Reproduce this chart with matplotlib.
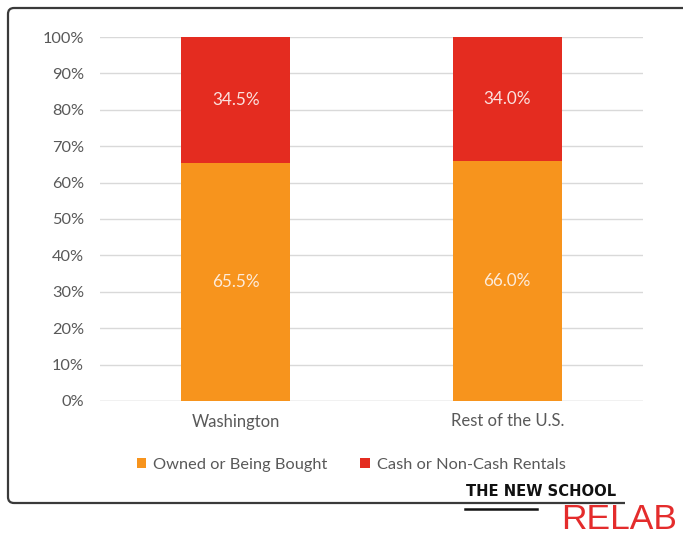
import matplotlib
matplotlib.use("Agg")
import matplotlib.pyplot as plt
from matplotlib.path import Path
from matplotlib.patches import PathPatch
from matplotlib.lines import Line2D

categories = ["Washington", "Rest of the U.S."]
owned = [65.5, 66.0]
rentals = [34.5, 34.0]
series_names = ["Owned or Being Bought", "Cash or Non-Cash Rentals"]
yticks = [0, 10, 20, 30, 40, 50, 60, 70, 80, 90, 100]

plt.rcParams['font.family'] = ['Lato', 'DejaVu Sans']
W, H = 683, 538
fig = plt.figure(figsize=(W / 100, H / 100), dpi=100)
fig.patch.set_facecolor("white")

# frame drawn in pixel coords (y from top)
def fx(px):
    return px / W
def fy(py):
    return 1 - py / H

r = 6
verts = [(700, 8), (8 + r, 8), (8, 8), (8, 8 + r), (8, 503 - r), (8, 503), (8 + r, 503), (625, 503)]
codes = [Path.MOVETO, Path.LINETO, Path.CURVE3, Path.CURVE3, Path.LINETO, Path.CURVE3, Path.CURVE3, Path.LINETO]
path = Path([(fx(a), fy(b)) for a, b in verts], codes)
fig.patches.append(PathPatch(path, transform=fig.transFigure, fill=False,
                             edgecolor="#3a3a3a", linewidth=1.6, zorder=0))

ax = fig.add_axes([fx(100), fy(401), (643 - 100) / W, (401 - 37) / H])
orange = "#F7941D"
red = "#E42C20"
x = list(range(len(categories)))
b1 = ax.bar(x, owned, width=0.4, color=orange, zorder=2)
b2 = ax.bar(x, rentals, width=0.4, bottom=owned, color=red, zorder=2)
for i in x:
    ax.text(i, owned[i] / 2, f"{owned[i]:.1f}%", ha="center", va="center",
            color="#FDEBDA", fontsize=12.3)
    ax.text(i, owned[i] + rentals[i] / 2, f"{rentals[i]:.1f}%", ha="center",
            va="center", color="#FBE1DE", fontsize=12.3)

ax.set_xlim(-0.5, 1.5)
ax.set_ylim(0, 100)
ax.set_yticks(yticks)
ax.set_yticklabels([f"{v}%" for v in yticks])
ax.set_xticks(x)
ax.set_xticklabels(categories)
ax.tick_params(axis="both", length=0, colors="#595959", labelsize=11.8)
ax.tick_params(axis="y", pad=11.5)
ax.tick_params(axis="x", labelsize=12, pad=9)
ax.grid(axis="y", color="#D9D9D9", linewidth=1, zorder=0)
for s in ax.spines.values():
    s.set_visible(False)
ax.axhline(0, color="#D9D9D9", linewidth=1, zorder=1)

leg = fig.legend([b1, b2], series_names, loc="center", bbox_to_anchor=(fx(351), fy(465)),
                 ncol=2, frameon=False, fontsize=11.8, handlelength=0.6, handleheight=0.6,
                 handletextpad=0.4, columnspacing=2.0, labelcolor="#595959")

# logo
fig.text(fx(541), fy(491), "THE NEW SCHOOL", ha="center", va="center",
         fontsize=10.6, fontweight="bold", color="#111111", family=["DejaVu Sans"])
fig.add_artist(Line2D([fx(465), fx(537)], [fy(509), fy(509)],
                      color="#111111", linewidth=1.8, transform=fig.transFigure))
fig.text(fx(677), fy(529), "RELAB", ha="right", va="baseline",
         fontsize=25.5, color="#E42C2C", family=["Liberation Sans", "DejaVu Sans"])

fig.savefig("out.png", dpi=100, facecolor="white")
